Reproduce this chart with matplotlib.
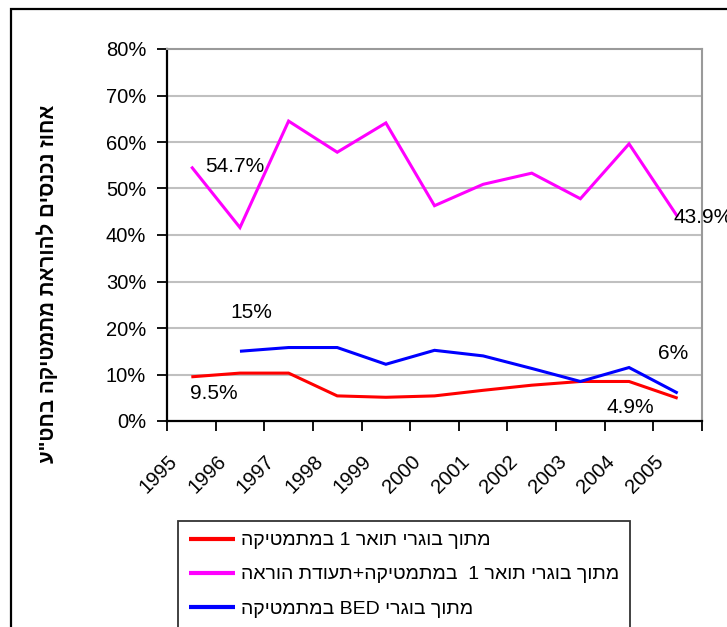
import re
import matplotlib
matplotlib.use("Agg")
import matplotlib.pyplot as plt
import matplotlib.transforms as mtransforms
from matplotlib.patches import Rectangle

plt.rcParams['font.family'] = ['Liberation Sans', 'DejaVu Sans']

# ---- data -------------------------------------------------------------
years = ['1995', '1996', '1997', '1998', '1999', '2000',
         '2001', '2002', '2003', '2004', '2005']
math_ba = [9.5, 10.3, 10.3, 5.4, 5.1, 5.4, 6.6, 7.7, 8.5, 8.5, 4.9]
math_ba_cert = [54.7, 41.6, 64.5, 57.8, 64.1, 46.3, 50.9, 53.3, 47.8, 59.6, 43.9]
bed_math = [None, 15.0, 15.8, 15.8, 12.2, 15.2, 14.0, 11.3, 8.5, 11.5, 6.0]

y_ticks = [0, 10, 20, 30, 40, 50, 60, 70, 80]
y_title = 'אחוז נכנסים להוראת מתמטיקה בחט"ע'
series_names = ['מתוך בוגרי תואר 1 במתמטיקה',
                'מתוך בוגרי תואר 1  במתמטיקה+תעודת הוראה',
                'מתוך בוגרי BED במתמטיקה']
series_colors = ['#FF0000', '#FF00FF', '#0000FF']


def visual(s):
    """Return right-to-left text in display order, keeping Latin/digit runs."""
    rev = s[::-1]
    return re.sub(r'[A-Za-z0-9.%]+', lambda m: m.group(0)[::-1], rev)


fig = plt.figure(figsize=(7.27, 6.27), dpi=100)
W, H = 727, 627

# outer frame
fig.patches.append(Rectangle((11 / W, -0.1), 1.2, (H - 9) / H + 0.1,
                             transform=fig.transFigure, fill=False,
                             edgecolor='black', linewidth=1.6))

ax = fig.add_axes([167 / W, (H - 421) / H, 535 / W, 372 / H])

xs = [i + 0.5 for i in range(len(years))]
lines = []
for vals, color in zip([math_ba, math_ba_cert, bed_math], series_colors):
    px = [x for x, v in zip(xs, vals) if v is not None]
    py = [v for v in vals if v is not None]
    ln, = ax.plot(px, py, color=color, linewidth=2.2, solid_joinstyle='miter',
                  solid_capstyle='butt')
    lines.append(ln)

ax.set_xlim(0, len(years))
ax.set_ylim(0, 80)
ax.set_yticks(y_ticks)
ax.set_yticklabels([f'{t}%' for t in y_ticks])
ax.set_xticks(range(len(years) + 1))
ax.tick_params(axis='both', direction='out', length=7, width=1.3,
               labelsize=14.5, colors='black')
ax.tick_params(axis='y', pad=8)
ax.tick_params(axis='x', pad=15)
ax.set_xticklabels(years + [''], rotation=45, ha='right', va='top')
offset = mtransforms.ScaledTranslation(14 / 100, 0, fig.dpi_scale_trans)
for lbl in ax.get_xticklabels():
    lbl.set_transform(lbl.get_transform() + offset)

for y in y_ticks[1:-1]:
    ax.axhline(y, color='#c0c0c0', linewidth=1.5, zorder=0)
ax.spines['left'].set_color('black')
ax.spines['bottom'].set_color('black')
ax.spines['left'].set_linewidth(1.6)
ax.spines['bottom'].set_linewidth(1.6)
ax.spines['top'].set_color('#9a9a9a')
ax.spines['right'].set_color('#9a9a9a')
ax.spines['top'].set_linewidth(1.5)
ax.spines['right'].set_linewidth(1.5)

# value labels
def tag(text, x, y, dx, dy):
    ax.annotate(text, xy=(x, y), xytext=(dx, dy), textcoords='offset pixels',
                ha='left', va='center', fontsize=15, annotation_clip=False)

tag('54.7%', xs[0], math_ba_cert[0], 14, 0)
tag('43.9%', xs[-1], math_ba_cert[-1], -4, -1)
tag('15%', xs[1], bed_math[1], -10, 39)
tag('6%', xs[-1], bed_math[-1], -20, 40)
tag('9.5%', xs[0], math_ba[0], -1, -17)
tag('4.9%', xs[-1], math_ba[-1], -71, -9)

fig.text(47 / W, (H - 284) / H, visual(y_title), rotation=90,
         ha='center', va='center', fontsize=14.8, fontweight='bold')

leg = fig.legend(lines, [visual(s) for s in series_names],
                 loc='upper left', bbox_to_anchor=(178 / W, (H - 521) / H),
                 frameon=True, fancybox=False, edgecolor='black',
                 fontsize=14, handlelength=2.4, handletextpad=0.3,
                 labelspacing=0.85, borderpad=0.55, borderaxespad=0)
leg.get_frame().set_linewidth(1.3)
for h in leg.get_lines():
    h.set_linewidth(3)

fig.savefig('out.png', dpi=100, facecolor='white')
